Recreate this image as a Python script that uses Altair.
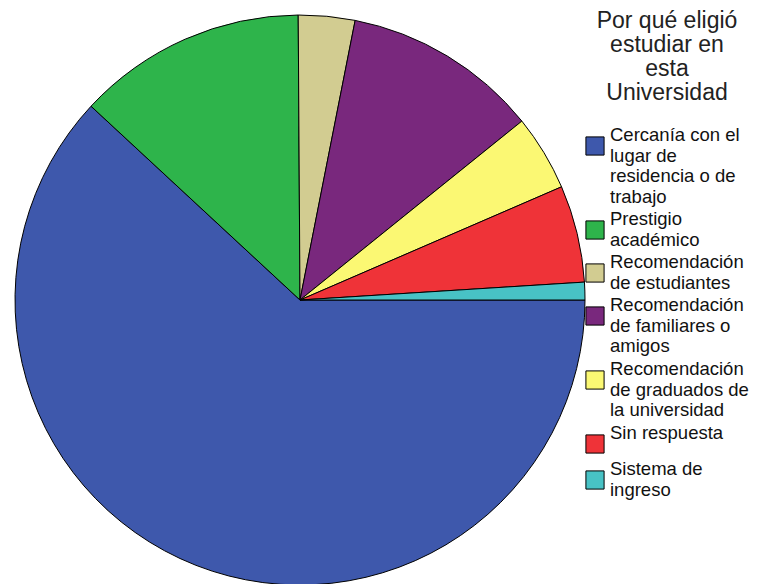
import math
import altair as alt
import pandas as pd

categories = [
    "Cercanía con el lugar de residencia o de trabajo",
    "Prestigio académico",
    "Recomendación de estudiantes",
    "Recomendación de familiares o amigos",
    "Recomendación de graduados de la universidad",
    "Sin respuesta",
    "Sistema de ingreso",
]
percent = [61.9, 13.0, 3.2, 11.1, 4.3, 5.5, 1.0]
colors = ["#3E58AC", "#2EB44B", "#D2CC91", "#79287D", "#FBF873", "#EF3338", "#48C2C5"]
wrapped = [
    ["Cercanía con el", "lugar de", "residencia o de", "trabajo"],
    ["Prestigio", "académico"],
    ["Recomendación", "de estudiantes"],
    ["Recomendación", "de familiares o", "amigos"],
    ["Recomendación", "de graduados de", "la universidad"],
    ["Sin respuesta"],
    ["Sistema de", "ingreso"],
]
title_lines = ["Por qué eligió", "estudiar en", "esta", "Universidad"]

df = pd.DataFrame({"cat": categories, "pct": percent, "ord": list(range(len(categories)))})

expr = "datum.label"
for c, w in reversed(list(zip(categories, wrapped))):
    arr = "[" + ",".join("'" + s + "'" for s in w) + "]"
    expr = f"datum.label == '{c}' ? {arr} : ({expr})"

chart = (
    alt.Chart(df)
    .mark_arc(radius=285, stroke="black", strokeWidth=1)
    .encode(
        theta=alt.Theta("pct:Q", stack=True,
                        scale=alt.Scale(range=[math.pi / 2, math.pi / 2 + 2 * math.pi])),
        order=alt.Order("ord:Q"),
        color=alt.Color(
            "cat:N",
            scale=alt.Scale(domain=categories, range=colors),
            legend=alt.Legend(
                title=title_lines,
                orient="none",
                legendX=577,
                legendY=2,
                titleFontSize=23,
                titleFont="Liberation Sans",
                titleFontWeight="normal",
                titleColor="#222",
                titleAnchor="middle",
                titleAlign="center",
                titleLineHeight=24,
                titlePadding=31,
                labelExpr=expr,
                labelFont="Liberation Sans",
                labelFontSize=18.5,
                labelBaseline="line-bottom",
                labelColor="#111",
                labelLimit=300,
                symbolType="square",
                symbolSize=330,
                symbolStrokeColor="black",
                symbolStrokeWidth=1,
                symbolOpacity=1,
                labelOffset=5,
                rowPadding=4,
            ),
        ),
        x=alt.value(292),
        y=alt.value(292),
    )
    .properties(width=749, height=576, autosize=alt.AutoSizeParams(type="none"),
                padding=0, background="white")
    .configure_view(stroke=None)
)

chart.save("out.html", embed_options={"renderer": "svg", "actions": False})
